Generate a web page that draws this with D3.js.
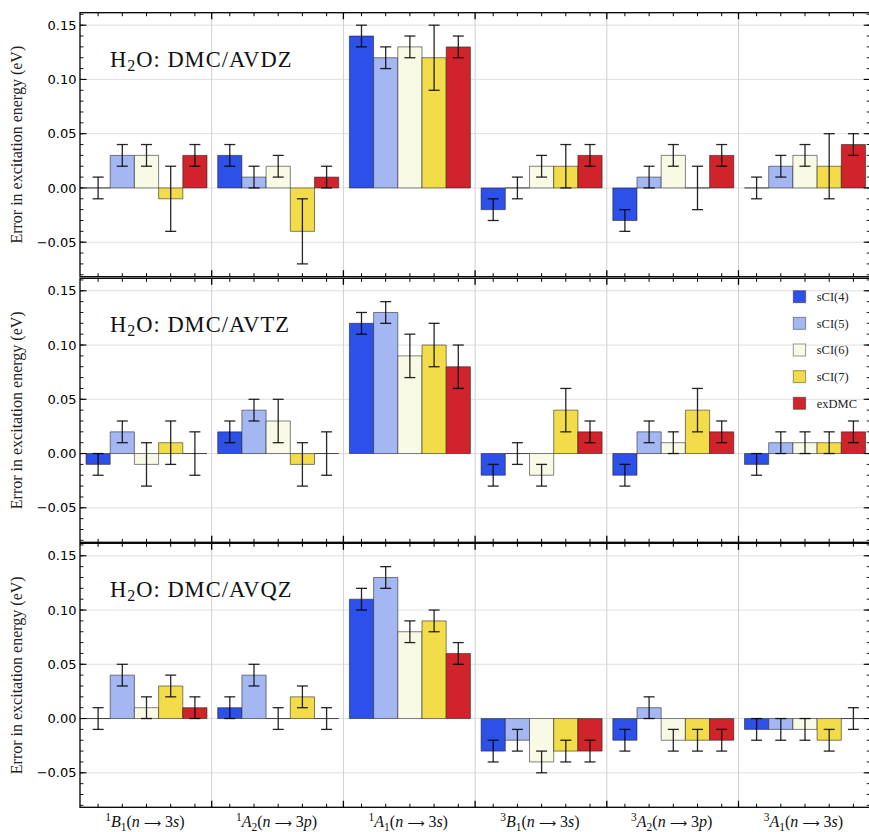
<!DOCTYPE html>
<html><head><meta charset="utf-8">
<script src="https://cdn.jsdelivr.net/npm/d3@7"></script>
<style>body{margin:0;background:#fff}</style>
</head><body>
<svg id="c" width="869" height="832" xmlns="http://www.w3.org/2000/svg"></svg>
<script>
// ---------- data ----------
const groupKeys = ["1B1", "1A2", "1A1", "3B1", "3A2", "3A1"];
const labelSpin = ["1", "1", "1", "3", "3", "3"];
const labelSym = ["B", "A", "A", "B", "A", "A"];
const labelSub = ["1", "2", "1", "1", "2", "1"];
const labelOrbNum = ["3", "3", "3", "3", "3", "3"];
const labelOrbL = ["s", "p", "s", "s", "p", "s"];

const series = ["sCI(4)", "sCI(5)", "sCI(6)", "sCI(7)", "exDMC"];
const colors = ["#2d50e8", "#a4b7f3", "#f8fae6", "#f3dc4a", "#d0232b"];
const panelBasis = ["AVDZ", "AVTZ", "AVQZ"];

// AVDZ values / errors (rows = series, cols = groups)
const avdzVal = [
  [0.00, 0.03, 0.14, -0.02, -0.03, 0.00],
  [0.03, 0.01, 0.12, 0.00, 0.01, 0.02],
  [0.03, 0.02, 0.13, 0.02, 0.03, 0.03],
  [-0.01, -0.04, 0.12, 0.02, 0.00, 0.02],
  [0.03, 0.01, 0.13, 0.03, 0.03, 0.04]
];
const avdzErr = [
  [0.01, 0.01, 0.01, 0.01, 0.01, 0.01],
  [0.01, 0.01, 0.01, 0.01, 0.01, 0.01],
  [0.01, 0.01, 0.01, 0.01, 0.01, 0.01],
  [0.03, 0.03, 0.03, 0.02, 0.02, 0.03],
  [0.01, 0.01, 0.01, 0.01, 0.01, 0.01]
];
// AVTZ
const avtzVal = [
  [-0.01, 0.02, 0.12, -0.02, -0.02, -0.01],
  [0.02, 0.04, 0.13, 0.00, 0.02, 0.01],
  [-0.01, 0.03, 0.09, -0.02, 0.01, 0.01],
  [0.01, -0.01, 0.10, 0.04, 0.04, 0.01],
  [0.00, 0.00, 0.08, 0.02, 0.02, 0.02]
];
const avtzErr = [
  [0.01, 0.01, 0.01, 0.01, 0.01, 0.01],
  [0.01, 0.01, 0.01, 0.01, 0.01, 0.01],
  [0.02, 0.02, 0.02, 0.01, 0.01, 0.01],
  [0.02, 0.02, 0.02, 0.02, 0.02, 0.01],
  [0.02, 0.02, 0.02, 0.01, 0.01, 0.01]
];
// AVQZ
const avqzVal = [
  [0.00, 0.01, 0.11, -0.03, -0.02, -0.01],
  [0.04, 0.04, 0.13, -0.02, 0.01, -0.01],
  [0.01, 0.00, 0.08, -0.04, -0.02, -0.01],
  [0.03, 0.02, 0.09, -0.03, -0.02, -0.02],
  [0.01, 0.00, 0.06, -0.03, -0.02, 0.00]
];
const avqzErr = [
  [0.01, 0.01, 0.01, 0.01, 0.01, 0.01],
  [0.01, 0.01, 0.01, 0.01, 0.01, 0.01],
  [0.01, 0.01, 0.01, 0.01, 0.01, 0.01],
  [0.01, 0.01, 0.01, 0.01, 0.01, 0.01],
  [0.01, 0.01, 0.01, 0.01, 0.01, 0.01]
];

const yTicks = [-0.05, 0.00, 0.05, 0.10, 0.15];
const yTickLabels = ["\u22120.05", "0.00", "0.05", "0.10", "0.15"];
const yDomain = [-0.0818, 0.1615];

// ---------- layout ----------
const left = 80, right = 870.2;
const panelTops = [12.7, 278.3, 543.3];
const panelH = 264;
const serif = "'Liberation Serif', 'Times New Roman', serif";
const sans = "'DejaVu Sans', 'Liberation Sans', sans-serif";

const panels = [
  {basis: panelBasis[0], val: avdzVal, err: avdzErr},
  {basis: panelBasis[1], val: avtzVal, err: avtzErr},
  {basis: panelBasis[2], val: avqzVal, err: avqzErr}
];

const svg = d3.select("#c");
const x0 = d3.scaleBand().domain(groupKeys).range([left, right]).padding(0);
const x1 = d3.scaleBand().domain(series).range([6, 127]).padding(0);
const minorTicks = d3.range(-8, 17).map(d => d / 100);

panels.forEach((p, pi) => {
  const top = panelTops[pi];
  const y = d3.scaleLinear().domain(yDomain).range([top + panelH, top]);
  const g = svg.append("g");

  // gridlines
  g.selectAll(".hg").data(yTicks).join("line")
    .attr("x1", left).attr("x2", right)
    .attr("y1", d => y(d)).attr("y2", d => y(d))
    .attr("stroke", "#e0e0e0").attr("stroke-width", 1);
  g.selectAll(".vg").data(groupKeys.slice(1)).join("line")
    .attr("x1", d => x0(d)).attr("x2", d => x0(d))
    .attr("y1", top).attr("y2", top + panelH)
    .attr("stroke", "#cfcfcf").attr("stroke-width", 1);

  // bars
  const bars = [];
  series.forEach((s, si) => groupKeys.forEach((k, gi) => {
    bars.push({s, si, k, v: p.val[si][gi], e: p.err[si][gi]});
  }));
  g.selectAll(".bar").data(bars).join("path")
    .attr("d", d => {
      const xa = x0(d.k) + x1(d.s), xb = xa + x1.bandwidth();
      const ya = y(0), yb = y(d.v);
      return `M${xa},${ya}H${xb}V${yb}H${xa}Z`;
    })
    .attr("fill", d => colors[d.si])
    .attr("stroke", "rgba(30,30,30,0.55)")
    .attr("stroke-width", 1);

  // error bars
  const eb = g.selectAll(".eb").data(bars).join("g")
    .attr("stroke", "rgba(0,0,0,0.85)").attr("stroke-width", 1.3);
  eb.append("line")
    .attr("x1", d => x0(d.k) + x1(d.s) + x1.bandwidth() / 2)
    .attr("x2", d => x0(d.k) + x1(d.s) + x1.bandwidth() / 2)
    .attr("y1", d => y(d.v - d.e)).attr("y2", d => y(d.v + d.e));
  [-1, 1].forEach(sg => {
    eb.append("line")
      .attr("x1", d => x0(d.k) + x1(d.s) + x1.bandwidth() / 2 - 5.5)
      .attr("x2", d => x0(d.k) + x1(d.s) + x1.bandwidth() / 2 + 5.5)
      .attr("y1", d => y(d.v + sg * d.e)).attr("y2", d => y(d.v + sg * d.e));
  });

  // frame
  g.append("rect").attr("x", left).attr("y", top).attr("width", right - left).attr("height", panelH)
    .attr("fill", "none").attr("stroke", "#000").attr("stroke-width", 1.3);

  // top/bottom ticks
  const centers = [];
  groupKeys.forEach(k => series.forEach(s => centers.push(x0(k) + x1(s) + x1.bandwidth() / 2)));
  [[top, 1], [top + panelH, -1]].forEach(([yy, dir]) => {
    g.selectAll(null).data(centers).join("line")
      .attr("x1", d => d).attr("x2", d => d)
      .attr("y1", yy).attr("y2", yy + dir * 3.5)
      .attr("stroke", "#000").attr("stroke-width", 1);
    g.selectAll(null).data(groupKeys.slice(1)).join("line")
      .attr("x1", d => x0(d)).attr("x2", d => x0(d))
      .attr("y1", yy).attr("y2", yy + dir * 6.5)
      .attr("stroke", "#000").attr("stroke-width", 1.3);
  });

  // left / right ticks
  [[left, 1], [right, -1]].forEach(([xx, dir]) => {
    g.selectAll(null).data(minorTicks).join("line")
      .attr("x1", xx).attr("x2", xx + dir * 3.5)
      .attr("y1", d => y(d)).attr("y2", d => y(d))
      .attr("stroke", "#000").attr("stroke-width", 0.9);
    g.selectAll(null).data(yTicks).join("line")
      .attr("x1", xx).attr("x2", xx + dir * 6.5)
      .attr("y1", d => y(d)).attr("y2", d => y(d))
      .attr("stroke", "#000").attr("stroke-width", 1.1);
  });

  // y tick labels
  g.selectAll(null).data(yTicks).join("text")
    .attr("x", 76.5).attr("y", d => y(d)).attr("dy", "0.36em")
    .attr("text-anchor", "end").attr("font-family", sans).attr("font-size", 13)
    .attr("fill", "#000")
    .text((d, i) => yTickLabels[i]);

  // y axis title
  g.append("text")
    .attr("transform", `translate(22,${top + panelH / 2}) rotate(-90)`)
    .attr("text-anchor", "middle").attr("font-family", serif).attr("font-size", 16)
    .attr("fill", "#222")
    .text("Error in excitation energy (eV)");

  // panel title
  const t = g.append("text").attr("x", 110).attr("y", top + 54)
    .attr("font-family", serif).attr("font-size", 22.5).attr("fill", "#111")
    .attr("letter-spacing", 1);
  t.append("tspan").text("H");
  t.append("tspan").attr("font-size", 16).attr("baseline-shift", "-4").text("2");
  t.append("tspan").text("O: DMC/" + p.basis);

  // legend in middle panel
  if (pi === 1) {
    const lg = g.append("g");
    series.forEach((s, si) => {
      const cy = 296.7 + si * 26.65;
      lg.append("rect").attr("x", 793.3).attr("y", cy - 6).attr("width", 12.3).attr("height", 12)
        .attr("fill", colors[si]).attr("stroke", "rgba(30,30,30,0.45)").attr("stroke-width", 1);
      lg.append("text").attr("x", 816.7).attr("y", cy).attr("dy", "0.35em")
        .attr("font-family", serif).attr("font-size", 12.5).attr("fill", "#222").text(s);
    });
  }

  // bottom category labels
  if (pi === 2) {
    groupKeys.forEach((k, gi) => {
      const tx = g.append("text").attr("x", x0(k) + x0.bandwidth() / 2 - 1).attr("y", 827)
        .attr("text-anchor", "middle").attr("font-family", serif).attr("font-size", 16).attr("fill", "#111");
      tx.append("tspan").attr("font-size", 11.5).attr("baseline-shift", "6").text(labelSpin[gi]);
      tx.append("tspan").attr("font-style", "italic").text(labelSym[gi]);
      tx.append("tspan").attr("font-size", 11.5).attr("baseline-shift", "-4").text(labelSub[gi]);
      tx.append("tspan").text("(");
      tx.append("tspan").attr("font-style", "italic").text("n");
      tx.append("tspan").text(" ");
      tx.append("tspan").attr("font-family", sans).attr("font-size", 12).text("\u27F6");
      tx.append("tspan").text(" " + labelOrbNum[gi]);
      tx.append("tspan").attr("font-style", "italic").text(labelOrbL[gi]);
      tx.append("tspan").text(")");
    });
  }
});
</script>
</body></html>
